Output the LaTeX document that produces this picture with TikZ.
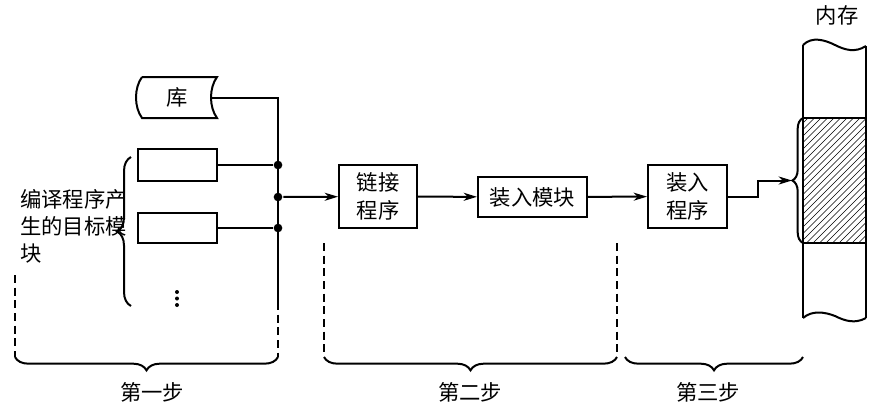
\documentclass[tikz,border=0pt]{standalone}
\usepackage{fontspec}
\setmainfont{Noto Sans CJK SC}
\usetikzlibrary{arrows.meta,decorations.pathreplacing,calc}
\begin{document}
\begin{tikzpicture}[x=0.75pt,y=-0.75pt,line width=1.5pt,
  box/.style={draw,line width=1.5pt,inner sep=0pt,align=center,font=\fontsize{16}{21}\selectfont},
  lbl/.style={inner sep=0pt,font=\fontsize{16}{20}\selectfont},
  arr/.style={-{Stealth[length=10pt,width=6pt,inset=3pt]}},
  jdot/.style={circle,fill,inner sep=0pt,minimum size=6.5pt},
  dline/.style={line width=1.5pt,dash pattern=on 6pt off 3.5pt},
  brc/.style={decorate,line width=1.5pt}
]
\useasboundingbox (0,0) rectangle (873,411);
% library
\node[lbl,minimum width=59pt,minimum height=30pt] (lib) at (177,97.5) {库};
\draw (142,77) -- (217,77) .. controls (209,88) and (209,107) .. (217,118) -- (142,118) .. controls (134,107) and (134,88) .. (142,77);
\coordinate (libr) at (211,97.5);
% module boxes
\node[box,minimum width=59.25pt,minimum height=24pt] (b1) at (177.5,165) {};
\node[box,minimum width=59.25pt,minimum height=22.5pt] (b2) at (177.5,228) {};
% bus
\coordinate (j0) at (278,97.5);
\node[jdot] (j1) at (278,165) {};
\node[jdot] (j2) at (278,197) {};
\node[jdot] (j3) at (278,228) {};
\coordinate (jb) at (278,302);
\coordinate (jd) at (278,357);
\draw (libr) -- (j0) -- (jb);
\draw[dline] (jb) -- (jd);
\draw (b1.east) -- (j1);
\draw (b2.east) -- (j3);
% dots
\foreach \yy in {292,298.5,305} \fill (177,\yy) circle (1.5pt);
% module brace
\draw[brc,decoration={brace,amplitude=10.5pt}] (131,306) -- (131,157);
\node[lbl,align=left,anchor=west] (src) at (19,226.5) {编译程序产\\生的目标模\\块};
% processing boxes
\node[box,minimum width=58.5pt,minimum height=47.25pt] (link) at (378,196.5) {链接\\程序};
\node[box,minimum width=81.75pt,minimum height=30pt] (mod) at (532.5,197) {装入模块};
\node[box,minimum width=59.25pt,minimum height=47.25pt] (load) at (687.5,196.5) {装入\\程序};
\draw[arr] (j2) -- (link);
\draw[arr] (link) -- (mod);
\draw[arr] (mod) -- (load);
% memory
\draw (803,45) .. controls (812,36) and (825,40) .. (835,45) .. controls (845,50) and (855,53) .. (866,46);
\draw (803,318) .. controls (812,310) and (825,312) .. (835,316) .. controls (845,321) and (855,324) .. (866,318);
\draw (803,45) -- (803,318);
\draw (866,46) -- (866,318);
\begin{scope}
\clip (803,118) rectangle (866,243);
\foreach \a in {670,676.5,...,870} \draw[line width=0.45pt] (\a,243) -- ({\a+125},118);
\end{scope}
\draw (803,118) -- (866,118);
\draw (803,243) -- (866,243);
\node[lbl] (memlbl) at (837,15) {内存};
\draw[brc,decoration={brace,amplitude=8pt}] (803,243) -- (803,118);
\coordinate (mtip) at (792,180.5);
\draw[arr] (load.east) -- ++(30,0) |- (mtip);
% dashed separators
\draw[dline] (15,275) -- (15,357);
\draw[dline] (324,243) -- (324,357);
\draw[dline] (617,243) -- (617,357);
% bottom braces
\draw[brc,decoration={brace,mirror,amplitude=10pt}] (15,357) -- (278,357);
\draw[brc,decoration={brace,mirror,amplitude=10pt}] (324,357) -- (617,357);
\draw[brc,decoration={brace,mirror,amplitude=10pt}] (625,357) -- (803,357);
\node[lbl] (s1) at (152,392) {第一步};
\node[lbl] (s2) at (470,392) {第二步};
\node[lbl] (s3) at (708,392) {第三步};
\end{tikzpicture}
\end{document}
